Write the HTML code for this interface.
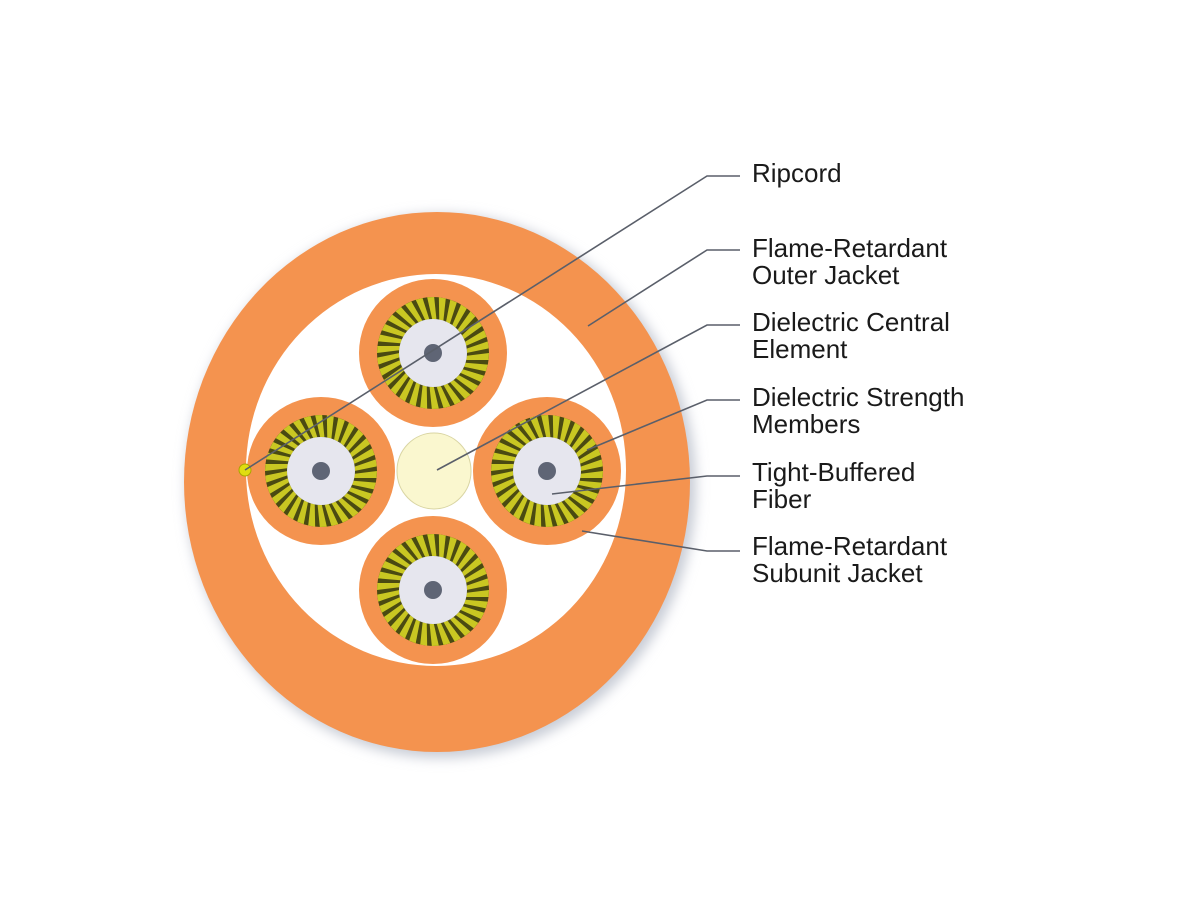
<!DOCTYPE html>
<html><head><meta charset="utf-8"><style>
html,body{margin:0;padding:0;background:#fff;width:1200px;height:900px;overflow:hidden}
svg text{font-family:"Liberation Sans",Arial,sans-serif;font-size:26px;fill:#1a1a1a}
</style></head><body>
<svg width="1200" height="900" viewBox="0 0 1200 900" xmlns="http://www.w3.org/2000/svg">
<defs>
<filter id="sh" x="-20%" y="-20%" width="140%" height="140%"><feGaussianBlur stdDeviation="6"/></filter>
</defs>
<ellipse cx="441" cy="486" rx="255" ry="272" fill="#c8ccd6" filter="url(#sh)"/>
<ellipse cx="437" cy="482" rx="253" ry="270" fill="#f4934f"/>
<ellipse cx="436" cy="470" rx="190" ry="196" fill="#fff"/>
<ellipse cx="434" cy="471" rx="37" ry="38" fill="#faf7cf" stroke="#d9d5a3" stroke-width="1"/>
<g id="subs"></g>
<circle cx="245" cy="470" r="6" fill="#e0dd10" stroke="#a9a500"/>
<g stroke="#5a5f6a" stroke-width="1.6" fill="none">
<polyline points="245,470 707,176 740,176"/>
<polyline points="588,326 707,250 740,250"/>
<polyline points="437,470 707,325 740,325"/>
<polyline points="587,450 707,400 740,400"/>
<polyline points="552,494 707,476 740,476"/>
<polyline points="582,531 707,551 740,551"/>
</g>
<text x="752" y="182">Ripcord</text>
<text x="752" y="257">Flame-Retardant</text>
<text x="752" y="284">Outer Jacket</text>
<text x="752" y="331">Dielectric Central</text>
<text x="752" y="358">Element</text>
<text x="752" y="406">Dielectric Strength</text>
<text x="752" y="433">Members</text>
<text x="752" y="481">Tight-Buffered</text>
<text x="752" y="508">Fiber</text>
<text x="752" y="555">Flame-Retardant</text>
<text x="752" y="582">Subunit Jacket</text>
</svg>
<script>
const g=document.getElementById('subs');const ns='http://www.w3.org/2000/svg';
function el(t,a){const e=document.createElementNS(ns,t);for(const k in a)e.setAttribute(k,a[k]);g.appendChild(e);return e;}
[[433,353],[321,471],[547,471],[433,590]].forEach(([x,y])=>{
el('circle',{cx:x,cy:y,r:74,fill:'#f4934f'});
el('circle',{cx:x,cy:y,r:56,fill:'#4a4a12'});
const n=30;
for(let i=0;i<n;i++){const a0=i*2*Math.PI/n,a1=(i+0.6)*2*Math.PI/n;
const p=`M${x+56*Math.cos(a0)},${y+56*Math.sin(a0)} L${x+34*Math.cos(a0+0.08)},${y+34*Math.sin(a0+0.08)} L${x+34*Math.cos(a1+0.08)},${y+34*Math.sin(a1+0.08)} L${x+56*Math.cos(a1)},${y+56*Math.sin(a1)}Z`;
el('path',{d:p,fill:'#c9c722'});}
el('circle',{cx:x,cy:y,r:34,fill:'#e6e6ee'});
el('circle',{cx:x,cy:y,r:9,fill:'#5f6575'});
});
</script>
</body></html>
